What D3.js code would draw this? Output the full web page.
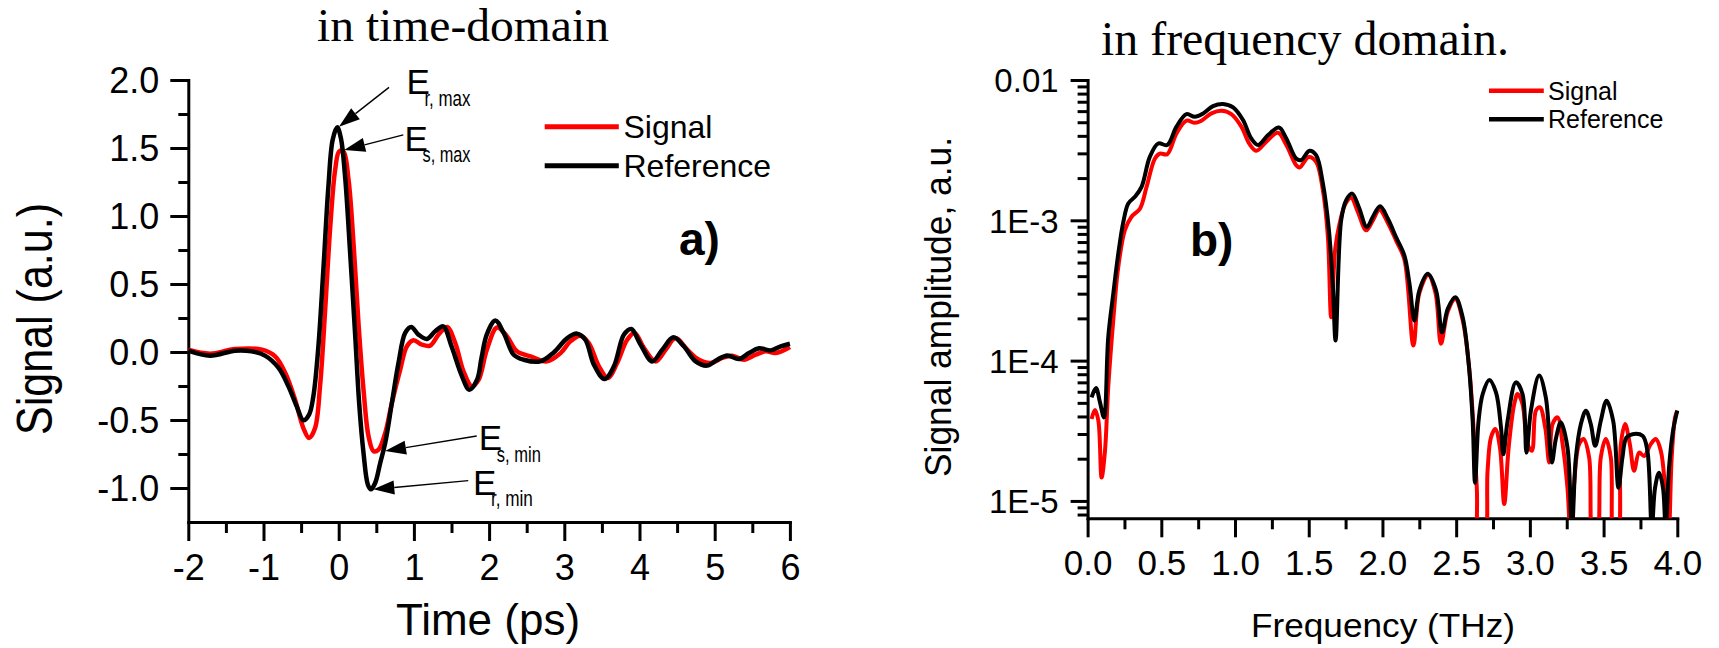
<!DOCTYPE html>
<html><head><meta charset="utf-8">
<script src="https://cdn.jsdelivr.net/npm/d3@7"></script>
<style>
html,body{margin:0;padding:0;background:#fff;}
svg{display:block;background:#fff;}
text{font-family:"Liberation Sans",Arial,sans-serif;fill:#000;}
.serif{font-family:"Liberation Serif","Times New Roman",serif;}
</style></head><body>
<svg id="chart" width="1719" height="648"></svg>
<script>
// ---------- DATA ----------
const timeTicks = [-2, -1, 0, 1, 2, 3, 4, 5, 6];
const timeMinorTicks = [-1.5, -0.5, 0.5, 1.5, 2.5, 3.5, 4.5, 5.5];
const signalTicks = [-1.0, -0.5, 0.0, 0.5, 1.0, 1.5, 2.0];
const signalMinorTicks = [-0.75, -0.25, 0.25, 0.75, 1.25, 1.75];

// time-domain, [t (ps), signal (a.u.)]
const timeSignal = [[-2.0,0.017],[-1.71,-0.012],[-1.38,0.022],[-1.02,0.017],[-0.845,-0.032],[-0.71,-0.154],[-0.58,-0.35],[-0.47,-0.559],[-0.394,-0.632],[-0.314,-0.559],[-0.248,-0.25],[-0.18,0.31],[-0.115,0.9],[-0.047,1.34],[0.006,1.475],[0.063,1.475],[0.13,1.27],[0.197,0.80],[0.263,0.213],[0.33,-0.277],[0.397,-0.62],[0.464,-0.73],[0.53,-0.718],[0.618,-0.596],[0.707,-0.375],[0.818,-0.13],[0.907,0.042],[0.995,0.086],[1.106,0.054],[1.217,0.047],[1.328,0.128],[1.44,0.184],[1.55,0.066],[1.66,-0.142],[1.77,-0.252],[1.86,-0.204],[1.97,0.017],[2.105,0.18],[2.238,0.115],[2.37,0.005],[2.55,-0.032],[2.77,-0.069],[2.95,-0.008],[3.08,0.078],[3.215,0.12],[3.325,0.066],[3.46,-0.105],[3.58,-0.191],[3.703,-0.081],[3.836,0.09],[3.934,0.139],[4.06,0.029],[4.214,-0.069],[4.347,0.017],[4.48,0.103],[4.635,0.017],[4.79,-0.057],[4.946,-0.081],[5.1,-0.044],[5.234,-0.027],[5.39,-0.057],[5.545,-0.02],[5.68,0.005],[5.81,-0.008],[6.0,0.037]];
const timeReference = [[-2.0,0.01],[-1.71,-0.027],[-1.38,0.01],[-1.16,0.005],[-0.98,-0.027],[-0.80,-0.117],[-0.67,-0.25],[-0.558,-0.40],[-0.47,-0.502],[-0.394,-0.46],[-0.337,-0.326],[-0.27,0.042],[-0.204,0.605],[-0.137,1.217],[-0.08,1.56],[-0.02,1.652],[0.03,1.57],[0.085,1.29],[0.152,0.73],[0.22,0.115],[0.272,-0.375],[0.33,-0.743],[0.388,-0.976],[0.428,-1.01],[0.485,-0.963],[0.552,-0.816],[0.618,-0.67],[0.707,-0.375],[0.795,-0.081],[0.884,0.14],[0.964,0.184],[1.06,0.128],[1.172,0.096],[1.283,0.152],[1.39,0.189],[1.50,0.042],[1.64,-0.179],[1.736,-0.277],[1.84,-0.204],[1.9,-0.04],[1.97,0.13],[2.083,0.232],[2.194,0.14],[2.327,-0.02],[2.46,-0.057],[2.682,-0.069],[2.86,-0.003],[3.04,0.102],[3.17,0.135],[3.28,0.09],[3.393,-0.093],[3.535,-0.199],[3.66,-0.105],[3.792,0.127],[3.89,0.169],[4.015,0.054],[4.17,-0.069],[4.303,0.017],[4.45,0.108],[4.59,0.042],[4.747,-0.069],[4.9,-0.1],[5.035,-0.057],[5.168,-0.025],[5.323,-0.052],[5.456,-0.008],[5.59,0.027],[5.745,0.012],[5.878,0.042],[6.0,0.061]];

const freqTicks = [0, 0.5, 1.0, 1.5, 2.0, 2.5, 3.0, 3.5, 4.0];
const freqMinorTicks = [0.25, 0.75, 1.25, 1.75, 2.25, 2.75, 3.25, 3.75];
const ampTicks = [1e-2, 1e-3, 1e-4, 1e-5];
const ampTickLabels = ["0.01", "1E-3", "1E-4", "1E-5"];

// frequency-domain, [f (THz), amplitude (a.u.)]
const freqSignal = [[0.027,3.84e-5],[0.05,4.45e-5],[0.073,3.73e-5],[0.095,1.47e-5],[0.118,2.28e-5],[0.14,6.46e-5],[0.174,1.93e-4],[0.208,4.65e-4],[0.253,8.5e-4],[0.298,1.06e-3],[0.355,1.21e-3],[0.4,1.73e-3],[0.456,2.75e-3],[0.49,2.99e-3],[0.54,2.96e-3],[0.603,4.16e-3],[0.671,5.13e-3],[0.727,4.95e-3],[0.772,5.13e-3],[0.84,5.78e-3],[0.908,6.04e-3],[0.975,5.71e-3],[1.043,4.65e-3],[1.099,3.49e-3],[1.145,3.13e-3],[1.212,3.63e-3],[1.291,4.21e-3],[1.348,3.44e-3],[1.415,2.47e-3],[1.438,2.38e-3],[1.5,2.83e-3],[1.55,2.61e-3],[1.596,1.64e-3],[1.63,7.6e-4],[1.652,2.04e-4],[1.68,6.3e-4],[1.709,9.46e-4],[1.75,1.32e-3],[1.788,1.45e-3],[1.833,1.15e-3],[1.89,8.5e-4],[1.935,1.0e-3],[1.98,1.19e-3],[2.036,9.6e-4],[2.092,7.2e-4],[2.149,5.25e-4],[2.21,1.28e-4],[2.25,3.02e-4],[2.31,4.07e-4],[2.36,3.02e-4],[2.397,1.32e-4],[2.443,2.24e-4],[2.494,2.75e-4],[2.544,1.95e-4],[2.59,8.5e-5],[2.64,1.24e-5],[2.657,5e-6],[2.69,5e-6],[2.713,1.64e-5],[2.736,2.83e-5],[2.765,3.25e-5],[2.797,2.4e-5],[2.826,9.5e-6],[2.856,2.4e-5],[2.894,4.9e-5],[2.917,5.78e-5],[2.95,4.9e-5],[2.984,2.54e-5],[3.014,2.28e-5],[3.041,4.4e-5],[3.068,4.65e-5],[3.104,3.34e-5],[3.131,1.88e-5],[3.154,3.53e-5],[3.188,3.94e-5],[3.222,2.54e-5],[3.255,1.24e-5],[3.278,5e-6],[3.3,1.32e-5],[3.334,2.54e-5],[3.364,2.76e-5],[3.402,2.04e-5],[3.43,5e-6],[3.452,5e-6],[3.481,2.04e-5],[3.515,2.76e-5],[3.549,2.04e-5],[3.572,5e-6],[3.594,5e-6],[3.617,2.54e-5],[3.646,3.53e-5],[3.678,2.54e-5],[3.707,1.64e-5],[3.741,2.21e-5],[3.775,2.09e-5],[3.82,2.54e-5],[3.854,2.76e-5],[3.888,2.28e-5],[3.917,1.24e-5],[3.94,5e-6],[3.962,2.04e-5],[3.985,3.94e-5],[4.0,4.4e-5]];
const freqReference = [[0.027,5.47e-5],[0.057,6.38e-5],[0.084,5.04e-5],[0.111,3.94e-5],[0.14,1.47e-4],[0.174,2.99e-4],[0.208,5.78e-4],[0.242,9.7e-4],[0.276,1.32e-3],[0.321,1.47e-3],[0.366,1.73e-3],[0.422,2.83e-3],[0.479,3.53e-3],[0.54,3.44e-3],[0.603,4.65e-3],[0.671,5.71e-3],[0.727,5.47e-3],[0.784,5.78e-3],[0.851,6.52e-3],[0.919,6.75e-3],[0.987,6.38e-3],[1.054,5.18e-3],[1.11,3.83e-3],[1.156,3.44e-3],[1.224,4.05e-3],[1.298,4.59e-3],[1.348,3.83e-3],[1.415,2.75e-3],[1.449,2.69e-3],[1.505,3.13e-3],[1.55,2.91e-3],[1.596,1.83e-3],[1.637,8.5e-4],[1.664,3.34e-4],[1.682,1.39e-4],[1.72,1.0e-3],[1.754,1.39e-3],[1.795,1.55e-3],[1.84,1.24e-3],[1.894,8.95e-4],[1.935,1.06e-3],[1.984,1.26e-3],[2.036,1.03e-3],[2.092,7.6e-4],[2.149,5.6e-4],[2.183,3.55e-4],[2.217,1.93e-4],[2.25,3.16e-4],[2.307,4.16e-4],[2.364,3.16e-4],[2.404,1.59e-4],[2.443,2.34e-4],[2.494,2.83e-4],[2.544,2.04e-4],[2.585,9.5e-5],[2.612,3.72e-5],[2.628,1.35e-5],[2.652,3.72e-5],[2.68,5.78e-5],[2.725,7.28e-5],[2.77,5.94e-5],[2.804,3.34e-5],[2.82,2.15e-5],[2.849,3.72e-5],[2.905,7.0e-5],[2.95,5.78e-5],[2.977,2.21e-5],[3.007,4.4e-5],[3.063,7.82e-5],[3.108,5.47e-5],[3.149,1.88e-5],[3.176,2.76e-5],[3.21,3.63e-5],[3.255,2.4e-5],[3.285,6.3e-6],[3.312,2.04e-5],[3.346,3.53e-5],[3.38,4.4e-5],[3.413,3.53e-5],[3.443,2.47e-5],[3.481,3.72e-5],[3.52,5.18e-5],[3.565,3.72e-5],[3.601,1.24e-5],[3.628,2.04e-5],[3.655,2.83e-5],[3.696,2.99e-5],[3.764,2.91e-5],[3.797,2.28e-5],[3.827,6.3e-6],[3.849,1.24e-5],[3.876,1.59e-5],[3.903,1.24e-5],[3.921,6.3e-6],[3.944,1.73e-5],[3.971,3.16e-5],[4.0,4.4e-5]];

// annotations in data coordinates of the time-domain chart
const annotations = [
  {sub: "r, max", tip: [0.004, 1.657], tail: [0.669, 1.946], at: [0.90, 1.895], subW: 46},
  {sub: "s, max", tip: [0.073, 1.485], tail: [0.859, 1.596], at: [0.875, 1.480], subW: 48},
  {sub: "s, min", tip: [0.616, -0.728], tail: [1.835, -0.618], at: [1.864, -0.721], subW: 44},
  {sub: "r, min", tip: [0.46, -1.01], tail: [1.723, -0.946], at: [1.785, -1.051], subW: 42}
];
const seriesNames = ["Signal", "Reference"];
const seriesColors = ["#ff0000", "#000000"];

// ---------- DRAW ----------
const svg = d3.select("#chart");
svg.append("rect").attr("width",1719).attr("height",648).attr("fill","#fff");

const xL = d3.scaleLinear().domain([-2, 6]).range([188.3, 789.9]);
const yL = d3.scaleLinear().domain([-1.25, 2]).range([522, 80]);
const xR = d3.scaleLinear().domain([0, 4]).range([1087.6, 1677.3]);
const yR = d3.scaleLog().domain([7.52e-6, 1e-2]).range([518.3, 80]);

function styleAxis(g, fs) {
  g.attr("font-family", '"Liberation Sans", Arial, sans-serif');
  g.select(".domain").attr("stroke", "#000").attr("stroke-width", 3).attr("stroke-linecap","square");
  g.selectAll(".tick line").attr("stroke", "#000").attr("stroke-width", 3);
  g.selectAll(".tick text").attr("font-size", fs).attr("fill", "#000");
}
function minorAxis(axis, y0x0, transform) {
  const g = svg.append("g").attr("transform", transform).call(axis);
  g.select(".domain").remove();
  g.selectAll(".tick line").attr("stroke", "#000").attr("stroke-width", 3);
  g.selectAll(".tick text").remove();
  return g;
}

// ===== Left chart =====
minorAxis(d3.axisBottom(xL).tickValues(timeMinorTicks).tickSize(11).tickFormat(""), 0, `translate(0,${yL(-1.25)})`);
minorAxis(d3.axisLeft(yL).tickValues(signalMinorTicks).tickSize(10).tickFormat(""), 0, `translate(${xL(-2)},0)`);
const gxL = svg.append("g").attr("transform", `translate(0,${yL(-1.25)})`)
  .call(d3.axisBottom(xL).tickValues(timeTicks).tickSize(19).tickSizeOuter(0).tickFormat(d => String(d)));
styleAxis(gxL, 36);
gxL.selectAll(".tick text").attr("y", 58).attr("dy", 0);
const gyL = svg.append("g").attr("transform", `translate(${xL(-2)},0)`)
  .call(d3.axisLeft(yL).tickValues(signalTicks).tickSize(18).tickSizeOuter(0).tickPadding(11).tickFormat(d => d.toFixed(1)));
styleAxis(gyL, 36);
gyL.selectAll(".tick text").attr("dy", "0.36em");

const lineL = d3.line().x(d => xL(d[0])).y(d => yL(d[1])).curve(d3.curveCatmullRom.alpha(0.5));
[timeSignal, timeReference].forEach((s, i) => {
  svg.append("path").attr("d", lineL(s)).attr("fill", "none")
    .attr("stroke", seriesColors[i]).attr("stroke-width", 4.5).attr("stroke-linejoin", "round");
});

// annotations
annotations.forEach(a => {
  const tip = [xL(a.tip[0]), yL(a.tip[1])], tail = [xL(a.tail[0]), yL(a.tail[1])];
  const dx = tip[0] - tail[0], dy = tip[1] - tail[1], len = Math.hypot(dx, dy);
  const ux = dx / len, uy = dy / len, nx = -uy, ny = ux, L = 21, W = 7;
  const bx = tip[0] - L * ux, by = tip[1] - L * uy;
  svg.append("line").attr("x1", tail[0]).attr("y1", tail[1]).attr("x2", bx).attr("y2", by)
    .attr("stroke", "#000").attr("stroke-width", 1.4);
  svg.append("polygon").attr("points", [[tip[0], tip[1]], [bx + W * nx, by + W * ny], [bx - W * nx, by - W * ny]].map(p => p.join(",")).join(" "))
    .attr("fill", "#000");
  const ex = xL(a.at[0]), ey = yL(a.at[1]);
  svg.append("text").attr("x", ex).attr("y", ey).attr("font-size", 35).text("E");
  svg.append("text").attr("x", ex + 18).attr("y", ey + 11.5).attr("font-size", 22)
    .attr("textLength", a.subW).attr("lengthAdjust", "spacingAndGlyphs").text(a.sub);
});

// legend left
[126.7, 165.7].forEach((yy, i) => {
  svg.append("line").attr("x1", 544.7).attr("x2", 618.8).attr("y1", yy).attr("y2", yy)
    .attr("stroke", seriesColors[i]).attr("stroke-width", 5);
  svg.append("text").attr("x", 623.5).attr("y", yy + 10.8).attr("font-size", 32).text(seriesNames[i]);
});
svg.append("text").attr("x", 679).attr("y", 255).attr("font-size", 46).attr("font-weight", "bold").text("a)");

// titles & axis labels left
svg.append("text").attr("class", "serif").attr("x", 463).attr("y", 40.7).attr("text-anchor", "middle")
  .attr("font-size", 46).attr("textLength", 292).attr("lengthAdjust", "spacingAndGlyphs").text("in time-domain");
svg.append("text").attr("x", 488).attr("y", 635).attr("text-anchor", "middle").attr("font-size", 44).text("Time (ps)");
svg.append("text").attr("transform", "translate(51.5,319) rotate(-90)").attr("text-anchor", "middle")
  .attr("font-size", 50).attr("textLength", 232).attr("lengthAdjust", "spacingAndGlyphs").text("Signal (a.u.)");

// ===== Right chart =====
minorAxis(d3.axisBottom(xR).tickValues(freqMinorTicks).tickSize(11).tickFormat(""), 0, `translate(0,${yR.range()[0]})`);
const majorLogs = new Set(ampTicks.map(v => Math.round(Math.log10(v))));
const ampMinor = yR.ticks().filter(v => Math.abs(Math.log10(v) - Math.round(Math.log10(v))) > 1e-6);
minorAxis(d3.axisLeft(yR).tickValues(ampMinor).tickSize(10).tickFormat(""), 0, `translate(${xR(0)},0)`);
const gxR = svg.append("g").attr("transform", `translate(0,${yR.range()[0]})`)
  .call(d3.axisBottom(xR).tickValues(freqTicks).tickSize(19).tickSizeOuter(0).tickFormat(d => d.toFixed(1)));
styleAxis(gxR, 35);
gxR.selectAll(".tick text").attr("y", 56.7).attr("dy", 0);
const gyR = svg.append("g").attr("transform", `translate(${xR(0)},0)`)
  .call(d3.axisLeft(yR).tickValues(ampTicks).tickSize(17).tickSizeOuter(0).tickPadding(12)
    .tickFormat((d, i) => ampTickLabels[i]));
styleAxis(gyR, 33);
gyR.selectAll(".tick text").attr("dy", "0.36em");

svg.append("clipPath").attr("id", "clipR").append("rect")
  .attr("x", xR(0)).attr("y", 70).attr("width", xR(4) - xR(0) + 4).attr("height", yR.range()[0] - 70);
const lineR = d3.line().x(d => xR(d[0])).y(d => yR(d[1])).curve(d3.curveCatmullRom.alpha(0.5));
[freqSignal, freqReference].forEach((s, i) => {
  svg.append("path").attr("d", lineR(s)).attr("fill", "none").attr("clip-path", "url(#clipR)")
    .attr("stroke", seriesColors[i]).attr("stroke-width", 4).attr("stroke-linejoin", "round");
});

// legend right
[90.7, 119.3].forEach((yy, i) => {
  svg.append("line").attr("x1", 1489).attr("x2", 1543.8).attr("y1", yy).attr("y2", yy)
    .attr("stroke", seriesColors[i]).attr("stroke-width", 4.5);
  svg.append("text").attr("x", 1548).attr("y", yy + 9).attr("font-size", 25).text(seriesNames[i]);
});
svg.append("text").attr("x", 1190).attr("y", 256).attr("font-size", 46).attr("font-weight", "bold").text("b)");

svg.append("text").attr("class", "serif").attr("x", 1305).attr("y", 55).attr("text-anchor", "middle")
  .attr("font-size", 48).attr("textLength", 408).attr("lengthAdjust", "spacingAndGlyphs").text("in frequency domain.");
svg.append("text").attr("x", 1383).attr("y", 637).attr("text-anchor", "middle").attr("font-size", 34)
  .attr("textLength", 264).attr("lengthAdjust", "spacingAndGlyphs").text("Frequency (THz)");
svg.append("text").attr("transform", "translate(950.8,307) rotate(-90)").attr("text-anchor", "middle")
  .attr("font-size", 37).attr("textLength", 340).attr("lengthAdjust", "spacingAndGlyphs").text("Signal amplitude, a.u.");
</script>
</body></html>
